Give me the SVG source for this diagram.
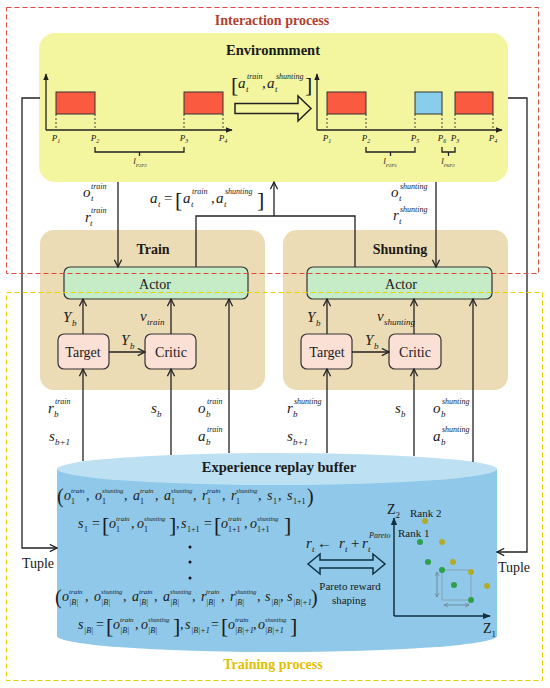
<svg xmlns="http://www.w3.org/2000/svg" width="550" height="688" viewBox="0 0 550 688">
<style>
text{font-family:"Liberation Serif","Times New Roman",serif;fill:#1a1a1a}
.m{font-style:italic;font-size:15px}
.mb{font-style:italic;font-size:14px}
.n{font-style:normal}
.su{font-size:8px}
.sb{font-size:9px}
.s1{font-size:7px}
.s2{font-size:6.2px}
.s3{font-size:8px}
.br{font-style:normal;font-size:22px}
.pr{font-style:normal;font-size:20px}
.t{font-size:14px}
.bold{font-weight:bold}
.pl{font-style:italic;font-size:9px}
.ps{font-size:6px}
.ln{fill:none;stroke:#222;stroke-width:1.3}
.dash{fill:none;stroke:#333;stroke-width:0.9;stroke-dasharray:2,2}
.rr{fill:#fa5a3f;stroke:#333;stroke-width:1}
.bx{fill:#88cdea;stroke:#333;stroke-width:1}
.nd{stroke:#333;stroke-width:1.2}
.g{fill:#2ea04a}
.o{fill:#b3ab2e}
</style>
<defs>
<marker id="ah" viewBox="0 0 10 10" refX="9" refY="5" markerWidth="9" markerHeight="9" orient="auto" markerUnits="userSpaceOnUse"><path d="M1,1 L9,5 L1,9" fill="none" stroke="#222" stroke-width="1.4"/></marker>
<marker id="tri" viewBox="0 0 10 10" refX="9" refY="5" markerWidth="7" markerHeight="7" orient="auto" markerUnits="userSpaceOnUse"><path d="M0,1 L10,5 L0,9 Z" fill="#222"/></marker>
<marker id="trin" viewBox="0 0 10 10" refX="9" refY="5" markerWidth="8" markerHeight="8" orient="auto" markerUnits="userSpaceOnUse"><path d="M0,1 L10,5 L0,9 Z" fill="#0f3040"/></marker>
<marker id="ga" viewBox="0 0 10 10" refX="9" refY="5" markerWidth="5" markerHeight="5" orient="auto-start-reverse" markerUnits="userSpaceOnUse"><path d="M1,1 L9,5 L1,9" fill="none" stroke="#6a7a88" stroke-width="1.3"/></marker>
</defs>

<!-- Environment -->
<g id="environment">
<rect x="39" y="33" width="469" height="149" rx="16" fill="#f3f59f"/>
<text x="273" y="55" text-anchor="middle" class="bold" font-size="14.5">Environmment</text>
<!-- left chart -->
<path d="M46,130 V74" class="ln" stroke-width="1.2" marker-end="url(#tri)"/>
<path d="M46,130 H232" class="ln" stroke-width="1.2" marker-end="url(#tri)"/>
<rect x="56" y="92" width="39" height="22" class="rr"/>
<rect x="184" y="92" width="39" height="22" class="rr"/>
<path d="M56,114 V130 M95,114 V130 M184,114 V130 M223,114 V130" class="dash"/>
<text x="56" y="141" class="pl" text-anchor="middle">P<tspan class="ps" dy="2">1</tspan></text>
<text x="95" y="141" class="pl" text-anchor="middle">P<tspan class="ps" dy="2">2</tspan></text>
<text x="184" y="141" class="pl" text-anchor="middle">P<tspan class="ps" dy="2">3</tspan></text>
<text x="223" y="141" class="pl" text-anchor="middle">P<tspan class="ps" dy="2">4</tspan></text>
<path d="M95,147 V152 H184 V147 M139.5,152 V156" class="ln" stroke-width="1"/>
<text x="140" y="164" class="pl" text-anchor="middle">l<tspan font-size="5" dy="3">P2P3</tspan></text>
<!-- arrow -->
<path d="M235,103.5 H298 V96 L311,108.5 L298,121 V113.5 H235 Z" fill="none" stroke="#222" stroke-width="1.5"/>
<text class="m"><tspan class="br" x="231" y="92">[</tspan><tspan x="238" y="88">a</tspan><tspan class="su" x="247" y="79">train</tspan><tspan class="sb" x="246" y="92">t</tspan><tspan x="262" y="88">,</tspan><tspan x="267" y="88">a</tspan><tspan class="su" x="276" y="79">shunting</tspan><tspan class="sb" x="275" y="92">t</tspan><tspan class="br" x="305" y="92">]</tspan></text>
<!-- right chart -->
<path d="M317,130 V74" class="ln" stroke-width="1.2" marker-end="url(#tri)"/>
<path d="M317,130 H502" class="ln" stroke-width="1.2" marker-end="url(#tri)"/>
<rect x="327" y="92" width="39" height="22" class="rr"/>
<rect x="415" y="92" width="27" height="22" class="bx"/>
<rect x="455" y="92" width="38" height="22" class="rr"/>
<path d="M327,114 V130 M366,114 V130 M415,114 V130 M442,114 V130 M455,114 V130 M493,114 V130" class="dash"/>
<text x="327" y="141" class="pl" text-anchor="middle">P<tspan class="ps" dy="2">1</tspan></text>
<text x="366" y="141" class="pl" text-anchor="middle">P<tspan class="ps" dy="2">2</tspan></text>
<text x="415" y="141" class="pl" text-anchor="middle">P<tspan class="ps" dy="2">5</tspan></text>
<text x="442" y="141" class="pl" text-anchor="middle">P<tspan class="ps" dy="2">6</tspan></text>
<text x="455" y="141" class="pl" text-anchor="middle">P<tspan class="ps" dy="2">3</tspan></text>
<text x="493" y="141" class="pl" text-anchor="middle">P<tspan class="ps" dy="2">4</tspan></text>
<path d="M366,147 V152 H415 V147 M390.5,152 V156 M442,147 V152 H455 V147 M448.5,152 V156" class="ln" stroke-width="1"/>
<text x="390" y="164" class="pl" text-anchor="middle">l<tspan font-size="5" dy="3">P2P5</tspan></text>
<text x="448" y="164" class="pl" text-anchor="middle">l<tspan font-size="5" dy="3">P6P3</tspan></text>
</g>

<!-- Train -->
<g id="train">
<rect x="40" y="230" width="225" height="160" rx="14" fill="#ecdcb5"/>
<text x="153" y="254" text-anchor="middle" class="bold t">Train</text>
</g>
<g id="shunting">
<rect x="283" y="230" width="225" height="160" rx="14" fill="#ecdcb5"/>
<text x="400" y="254" text-anchor="middle" class="bold t">Shunting</text>
</g>
<g id="train-actor">
<rect x="64" y="267" width="184" height="32" rx="6" fill="#c5ebc7" class="nd"/>
<text x="155" y="289" text-anchor="middle" class="t">Actor</text>
</g>
<g id="train-target">
<rect x="58" y="334" width="51" height="35" rx="6" fill="#fbe0d5" class="nd"/>
<text x="83" y="357" text-anchor="middle" class="t">Target</text>
</g>
<g id="train-critic">
<rect x="145" y="334" width="51" height="35" rx="6" fill="#fbe0d5" class="nd"/>
<text x="171" y="357" text-anchor="middle" class="t">Critic</text>
</g>
<g id="shunting-actor">
<rect x="307" y="267" width="185" height="32" rx="6" fill="#c5ebc7" class="nd"/>
<text x="401" y="289" text-anchor="middle" class="t">Actor</text>
</g>
<g id="shunting-target">
<rect x="301" y="334" width="51" height="35" rx="6" fill="#fbe0d5" class="nd"/>
<text x="327" y="357" text-anchor="middle" class="t">Target</text>
</g>
<g id="shunting-critic">
<rect x="389" y="334" width="52" height="35" rx="6" fill="#fbe0d5" class="nd"/>
<text x="415" y="357" text-anchor="middle" class="t">Critic</text>
</g>

<!-- Buffer -->
<g id="buffer">
<path d="M57,469 V636 A220,16 0 0 0 497,636 V469 Z" fill="#8fc8e8"/>
<ellipse cx="277" cy="469" rx="220" ry="16" fill="#bde1f3"/>
<text x="279" y="472" text-anchor="middle" class="bold" font-size="14.5">Experience replay buffer</text>
<!-- row 1 -->
<text class="mb"><tspan class="pr" x="57" y="503">(</tspan><tspan x="64" y="500">o</tspan><tspan class="s1" x="71" y="493">train</tspan><tspan class="n s3" x="71" y="504">1</tspan><tspan x="86" y="500">,</tspan><tspan x="95" y="500">o</tspan><tspan class="s2" x="102" y="493">shunting</tspan><tspan class="n s3" x="102" y="504">1</tspan><tspan x="124" y="500">,</tspan><tspan x="133" y="500">a</tspan><tspan class="s1" x="140" y="493">train</tspan><tspan class="n s3" x="140" y="504">1</tspan><tspan x="155" y="500">,</tspan><tspan x="164" y="500">a</tspan><tspan class="s2" x="171" y="493">shunting</tspan><tspan class="n s3" x="171" y="504">1</tspan><tspan x="193" y="500">,</tspan><tspan x="202" y="500">r</tspan><tspan class="s1" x="207" y="493">train</tspan><tspan class="n s3" x="207" y="504">1</tspan><tspan x="222" y="500">,</tspan><tspan x="231" y="500">r</tspan><tspan class="s2" x="236" y="493">shunting</tspan><tspan class="n s3" x="236" y="504">1</tspan><tspan x="258" y="500">,</tspan><tspan x="267" y="500">s</tspan><tspan class="n s3" x="273" y="504">1</tspan><tspan x="278" y="500">,</tspan><tspan x="287" y="500">s</tspan><tspan class="n s3" x="293" y="504">1+1</tspan><tspan class="pr" x="307" y="503">)</tspan></text>
<!-- row 2 -->
<text class="mb"><tspan x="78" y="528">s</tspan><tspan class="n s3" x="84" y="532">1</tspan><tspan class="n" x="92" y="528">=</tspan><tspan class="br" x="102" y="532">[</tspan><tspan x="109" y="528">o</tspan><tspan class="s1" x="116" y="521">train</tspan><tspan class="n s3" x="116" y="532">1</tspan><tspan x="131" y="528">,</tspan><tspan x="137" y="528">o</tspan><tspan class="s2" x="144" y="521">shunting</tspan><tspan class="n s3" x="144" y="532">1</tspan><tspan class="br" x="169" y="532">]</tspan><tspan x="176" y="528">,</tspan><tspan x="181" y="528">s</tspan><tspan class="n s3" x="187" y="532">1+1</tspan><tspan class="n" x="204" y="528">=</tspan><tspan class="br" x="214" y="532">[</tspan><tspan x="221" y="528">o</tspan><tspan class="s1" x="228" y="521">train</tspan><tspan class="n s3" x="228" y="532">1+1</tspan><tspan x="244" y="528">,</tspan><tspan x="250" y="528">o</tspan><tspan class="s2" x="257" y="521">shunting</tspan><tspan class="n s3" x="257" y="532">1+1</tspan><tspan class="br" x="284" y="532">]</tspan></text>
<circle cx="190" cy="547" r="1.5" fill="#111"/>
<circle cx="190" cy="562" r="1.5" fill="#111"/>
<circle cx="190" cy="578" r="1.5" fill="#111"/>
<!-- row 3 -->
<text class="mb"><tspan class="pr" x="55" y="604">(</tspan><tspan x="62" y="601">o</tspan><tspan class="s1" x="69" y="594">train</tspan><tspan class="s3" x="69" y="605">|B|</tspan><tspan x="85" y="601">,</tspan><tspan x="94" y="601">o</tspan><tspan class="s2" x="101" y="594">shunting</tspan><tspan class="s3" x="101" y="605">|B|</tspan><tspan x="123" y="601">,</tspan><tspan x="132" y="601">a</tspan><tspan class="s1" x="139" y="594">train</tspan><tspan class="s3" x="139" y="605">|B|</tspan><tspan x="154" y="601">,</tspan><tspan x="163" y="601">a</tspan><tspan class="s2" x="170" y="594">shunting</tspan><tspan class="s3" x="170" y="605">|B|</tspan><tspan x="192" y="601">,</tspan><tspan x="201" y="601">r</tspan><tspan class="s1" x="206" y="594">train</tspan><tspan class="s3" x="206" y="605">|B|</tspan><tspan x="221" y="601">,</tspan><tspan x="230" y="601">r</tspan><tspan class="s2" x="235" y="594">shunting</tspan><tspan class="s3" x="235" y="605">|B|</tspan><tspan x="257" y="601">,</tspan><tspan x="265" y="601">s</tspan><tspan class="s3" x="271" y="605">|B|</tspan><tspan x="280" y="601">,</tspan><tspan x="287" y="601">s</tspan><tspan class="s3" x="293" y="605">|B|+1</tspan><tspan class="pr" x="311" y="604">)</tspan></text>
<!-- row 4 -->
<text class="mb"><tspan x="78" y="629">s</tspan><tspan class="s3" x="84" y="633">|B|</tspan><tspan class="n" x="96" y="629">=</tspan><tspan class="br" x="106" y="633">[</tspan><tspan x="113" y="629">o</tspan><tspan class="s1" x="120" y="622">train</tspan><tspan class="s3" x="120" y="633">|B|</tspan><tspan x="135" y="629">,</tspan><tspan x="141" y="629">o</tspan><tspan class="s2" x="148" y="622">shunting</tspan><tspan class="s3" x="148" y="633">|B|</tspan><tspan class="br" x="173" y="633">]</tspan><tspan x="180" y="629">,</tspan><tspan x="185" y="629">s</tspan><tspan class="s3" x="191" y="633">|B|+1</tspan><tspan class="n" x="211" y="629">=</tspan><tspan class="br" x="221" y="633">[</tspan><tspan x="228" y="629">o</tspan><tspan class="s1" x="235" y="622">train</tspan><tspan class="s3" x="235" y="633">|B|+1</tspan><tspan x="253" y="629">,</tspan><tspan x="258" y="629">o</tspan><tspan class="s2" x="265" y="622">shunting</tspan><tspan class="s3" x="265" y="633">|B|+1</tspan><tspan class="br" x="290" y="633">]</tspan></text>
<!-- Pareto reward shaping -->
<text class="m" font-size="16"><tspan x="306" y="548">r</tspan><tspan class="sb" x="312" y="552">t</tspan><tspan class="n" x="317" y="548">←</tspan><tspan x="339" y="548">r</tspan><tspan class="sb" x="345" y="552">t</tspan><tspan class="n" x="351" y="548">+</tspan><tspan x="362" y="548">r</tspan><tspan class="sb" x="368" y="552">t</tspan><tspan class="su" x="369" y="538">Pareto</tspan></text>
<path d="M308,564 L320,554 V560 H373 V554 L385,564 L373,574 V568 H320 V574 Z" fill="none" stroke="#0f3040" stroke-width="1.5"/>
<text x="350" y="590" text-anchor="middle" font-size="11">Pareto reward</text>
<text x="349" y="604" text-anchor="middle" font-size="11">shaping</text>
<!-- Pareto chart -->
<path d="M394,616 V518" fill="none" stroke="#0f3040" stroke-width="1.5" marker-end="url(#trin)"/>
<path d="M394,616 H490" fill="none" stroke="#0f3040" stroke-width="1.5" marker-end="url(#trin)"/>
<text x="387" y="514" font-size="14">Z<tspan font-size="9" dy="4">2</tspan></text>
<text x="483" y="633" font-size="14">Z<tspan font-size="9" dy="4">1</tspan></text>
<text x="410" y="517" font-size="11">Rank 2</text>
<text x="398" y="537" font-size="11">Rank 1</text>
<rect x="442" y="570" width="29" height="30" fill="none" stroke="#8a9aa8" stroke-width="0.8"/>
<path d="M437,572 V597" fill="none" stroke="#6a7a88" stroke-width="0.8" marker-start="url(#ga)" marker-end="url(#ga)"/>
<path d="M444,605 H469" fill="none" stroke="#6a7a88" stroke-width="0.8" marker-start="url(#ga)" marker-end="url(#ga)"/>
<circle cx="420" cy="542" r="3" class="g"/>
<circle cx="428" cy="562" r="3" class="g"/>
<circle cx="442" cy="570" r="3" class="g"/>
<circle cx="454" cy="585" r="3" class="g"/>
<circle cx="471" cy="600" r="3" class="g"/>
<circle cx="425" cy="521" r="3" class="o"/>
<circle cx="442" cy="542" r="3" class="o"/>
<circle cx="453" cy="562" r="3" class="o"/>
<circle cx="471" cy="572" r="3" class="o"/>
<circle cx="487" cy="586" r="3" class="o"/>
</g>

<!-- Connectors -->
<g id="connectors" class="ln">
<path d="M40,98 H22 V548 H57" class="ln" marker-end="url(#ah)"/>
<path d="M508,98 H527 V552 H497" class="ln" marker-end="url(#ah)"/>
<path d="M118,182 V267" class="ln" marker-end="url(#ah)"/>
<path d="M436,182 V267" class="ln" marker-end="url(#ah)"/>
<path d="M196,267 V216 H355 V267" class="ln"/>
<path d="M274,216 V182" class="ln" marker-end="url(#ah)"/>
<path d="M83,334 V299" class="ln" marker-end="url(#ah)"/>
<path d="M171,334 V299" class="ln" marker-end="url(#ah)"/>
<path d="M109,352 H145" class="ln" marker-end="url(#ah)"/>
<path d="M327,334 V299" class="ln" marker-end="url(#ah)"/>
<path d="M414,334 V299" class="ln" marker-end="url(#ah)"/>
<path d="M352,352 H389" class="ln" marker-end="url(#ah)"/>
<path d="M83,461 V369" class="ln" marker-end="url(#ah)"/>
<path d="M171,455 V369" class="ln" marker-end="url(#ah)"/>
<path d="M229,453 V299" class="ln" marker-end="url(#ah)"/>
<path d="M327,453 V369" class="ln" marker-end="url(#ah)"/>
<path d="M414,456 V369" class="ln" marker-end="url(#ah)"/>
<path d="M473,462 V299" class="ln" marker-end="url(#ah)"/>
</g>

<!-- connector labels -->
<g id="labels">
<text class="m"><tspan x="83" y="197">o</tspan><tspan class="su" x="91" y="189">train</tspan><tspan class="sb" x="91" y="201">t</tspan></text>
<text class="m"><tspan x="85" y="222">r</tspan><tspan class="su" x="91" y="213">train</tspan><tspan class="sb" x="90" y="226">t</tspan></text>
<text class="m"><tspan x="150" y="203">a</tspan><tspan class="sb" x="158" y="207">t</tspan><tspan class="n" x="164" y="203">=</tspan><tspan class="br" x="175" y="207">[</tspan><tspan x="183" y="203">a</tspan><tspan class="su" x="192" y="194">train</tspan><tspan class="sb" x="191" y="207">t</tspan><tspan x="211" y="203">,</tspan><tspan x="216" y="203">a</tspan><tspan class="su" x="225" y="194">shunting</tspan><tspan class="sb" x="224" y="207">t</tspan><tspan class="br" x="257" y="207">]</tspan></text>
<text class="m"><tspan x="391" y="197">o</tspan><tspan class="su" x="400" y="189">shunting</tspan><tspan class="sb" x="399" y="201">t</tspan></text>
<text class="m"><tspan x="393" y="220">r</tspan><tspan class="su" x="400" y="212">shunting</tspan><tspan class="sb" x="399" y="224">t</tspan></text>
<text class="m"><tspan x="63" y="322">Y</tspan><tspan class="sb" x="72" y="326">b</tspan></text>
<text class="m"><tspan x="140" y="321">v</tspan><tspan class="sb" x="147" y="325">train</tspan></text>
<text class="m"><tspan x="121" y="345">Y</tspan><tspan class="sb" x="130" y="349">b</tspan></text>
<text class="m"><tspan x="307" y="322">Y</tspan><tspan class="sb" x="316" y="326">b</tspan></text>
<text class="m"><tspan x="377" y="321">v</tspan><tspan class="sb" x="384" y="325">shunting</tspan></text>
<text class="m"><tspan x="365" y="345">Y</tspan><tspan class="sb" x="374" y="349">b</tspan></text>
<text class="m"><tspan x="48" y="413">r</tspan><tspan class="su" x="55" y="404">train</tspan><tspan class="sb" x="54" y="417">b</tspan></text>
<text class="m"><tspan x="49" y="441">s</tspan><tspan class="sb" x="55" y="445">b+1</tspan></text>
<text class="m"><tspan x="151" y="413">s</tspan><tspan class="sb" x="157" y="417">b</tspan></text>
<text class="m"><tspan x="198" y="413">o</tspan><tspan class="su" x="207" y="404">train</tspan><tspan class="sb" x="206" y="417">b</tspan></text>
<text class="m"><tspan x="198" y="441">a</tspan><tspan class="su" x="207" y="432">train</tspan><tspan class="sb" x="206" y="445">b</tspan></text>
<text class="m"><tspan x="287" y="413">r</tspan><tspan class="su" x="294" y="404">shunting</tspan><tspan class="sb" x="293" y="417">b</tspan></text>
<text class="m"><tspan x="287" y="441">s</tspan><tspan class="sb" x="293" y="445">b+1</tspan></text>
<text class="m"><tspan x="395" y="413">s</tspan><tspan class="sb" x="401" y="417">b</tspan></text>
<text class="m"><tspan x="433" y="413">o</tspan><tspan class="su" x="442" y="404">shunting</tspan><tspan class="sb" x="441" y="417">b</tspan></text>
<text class="m"><tspan x="433" y="441">a</tspan><tspan class="su" x="442" y="432">shunting</tspan><tspan class="sb" x="441" y="445">b</tspan></text>
<text x="38" y="568" text-anchor="middle" font-size="14">Tuple</text>
<text x="514" y="572" text-anchor="middle" font-size="14">Tuple</text>
</g>

<!-- process frames -->
<g id="interaction-process">
<rect x="6.5" y="7.5" width="532" height="266" fill="none" stroke="#e2473b" stroke-width="1" stroke-dasharray="5,3"/>
<text x="272" y="25" text-anchor="middle" class="bold" font-size="14" style="fill:#b0402f">Interaction process</text>
</g>
<g id="training-process">
<rect x="6.5" y="292.5" width="536" height="388" fill="none" stroke="#e6d200" stroke-width="1" stroke-dasharray="5,3"/>
<text x="273" y="669" text-anchor="middle" class="bold" font-size="14" style="fill:#e0c000">Training process</text>
</g>
</svg>
